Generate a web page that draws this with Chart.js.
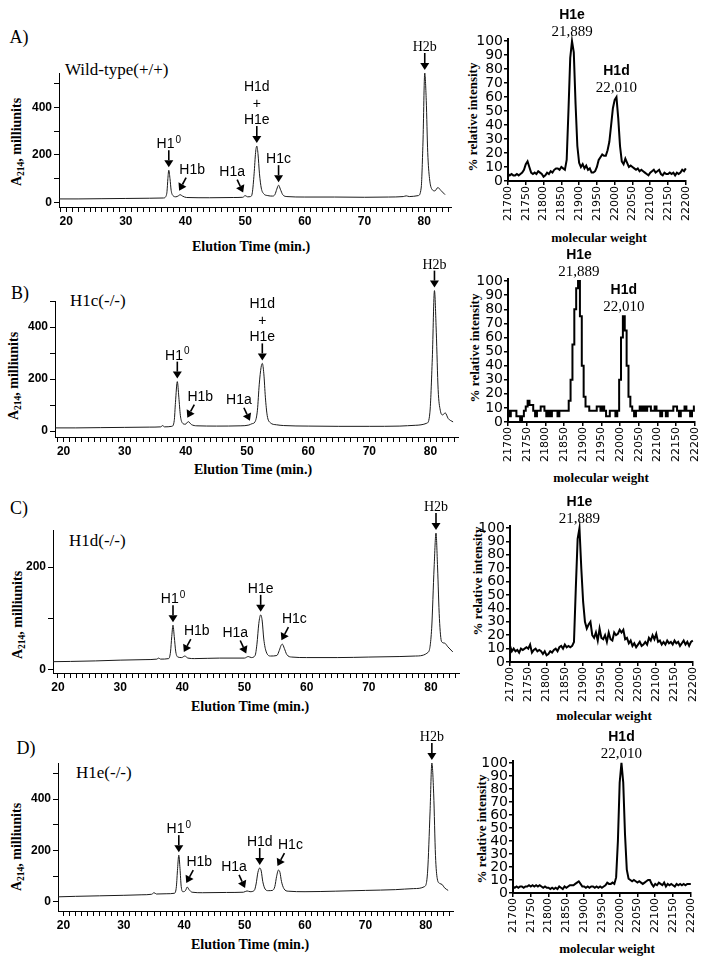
<!DOCTYPE html>
<html>
<head>
<meta charset="utf-8">
<script src="https://cdn.jsdelivr.net/npm/chart.js@4.4.1/dist/chart.umd.min.js"></script>
<style>
body{margin:0;background:#fff;width:714px;height:965px;position:relative;overflow:hidden}
canvas{position:absolute}
.t{position:absolute;white-space:nowrap;transform:translate(-50%,-50%);color:#000;line-height:1}
.l{position:absolute;white-space:nowrap;transform:translateY(-50%);color:#000;line-height:1}
.r{transform:translate(-50%,-50%) rotate(-90deg)}
.serif{font-family:"Liberation Serif","Times New Roman",serif}
.b{font-weight:bold}
sub{font-size:68%;vertical-align:-0.3em;line-height:0}
</style>
</head>
<body>
<div class="t serif" style="left:19px;top:37px;font-size:18px">A)</div>
<div class="t serif" style="left:20px;top:293px;font-size:18px">B)</div>
<div class="t serif" style="left:19px;top:508px;font-size:18px">C)</div>
<div class="t serif" style="left:26px;top:748px;font-size:18px">D)</div>

<div class="l serif" style="left:65px;top:69px;font-size:17px">Wild-type(+/+)</div>
<div class="l serif" style="left:70px;top:300px;font-size:17px">H1c(-/-)</div>
<div class="l serif" style="left:69px;top:540px;font-size:17px">H1d(-/-)</div>
<div class="l serif" style="left:76px;top:772px;font-size:17px">H1e(-/-)</div>

<div class="t r serif b" style="left:17px;top:142px;font-size:14px">A<sub>214</sub>, milliunits</div>
<div class="t r serif b" style="left:14px;top:376px;font-size:14px">A<sub>214</sub>, milliunits</div>
<div class="t r serif b" style="left:18px;top:615px;font-size:14px">A<sub>214</sub>, milliunits</div>
<div class="t r serif b" style="left:17px;top:847px;font-size:14px">A<sub>214</sub>, milliunits</div>

<div class="t serif b" style="left:251px;top:247px;font-size:14px">Elution Time (min.)</div>
<div class="t serif b" style="left:253px;top:470px;font-size:14px">Elution Time (min.)</div>
<div class="t serif b" style="left:250px;top:707px;font-size:14px">Elution Time (min.)</div>
<div class="t serif b" style="left:250px;top:945px;font-size:14px">Elution Time (min.)</div>

<div class="t r serif b" style="left:472px;top:117px;font-size:13px">% relative intensity</div>
<div class="t r serif b" style="left:474px;top:348px;font-size:13px">% relative intensity</div>
<div class="t r serif b" style="left:477px;top:581px;font-size:13px">% relative intensity</div>
<div class="t r serif b" style="left:481px;top:829px;font-size:13px">% relative intensity</div>

<div class="t serif b" style="left:599px;top:237px;font-size:13px">molecular weight</div>
<div class="t serif b" style="left:601px;top:477px;font-size:13px">molecular weight</div>
<div class="t serif b" style="left:604px;top:715px;font-size:13px">molecular weight</div>
<div class="t serif b" style="left:607px;top:948px;font-size:13px">molecular weight</div>

<script>
// chromatograms: [elution time (min), A214 (milliunits)]
const chromA = [
    [18.8,14],[22,14],[26,15],[30,16],[34,17],[36.3,18],[36.7,24],[36.9,45],[37.05,100],[37.2,135],
    [37.4,100],[37.6,50],[37.9,28],[38.4,23],[38.8,27],[39.1,32],[39.5,26],[40.2,20],[44,19],[48,20],
    [49.6,21],[50.0,28],[50.4,23],[50.9,24],[51.2,40],[51.5,120],[51.75,210],[51.95,237],[52.15,205],[52.4,120],
    [52.7,60],[53.1,36],[53.8,28],[54.6,26],[55.0,33],[55.3,55],[55.6,72],[55.9,55],[56.3,32],[57.0,24],
    [60,22],[65,22],[70,21],[74,22],[76.5,24],[77,27],[77.5,24],[79,28],[79.5,60],[79.8,250],
    [80.1,545],[80.35,430],[80.6,210],[80.9,100],[81.3,55],[81.8,48],[82.3,62],[82.8,50],[83.5,32]
];
const chromB = [
    [18.6,12],[22,12],[26,13],[30,14],[34,15],[35.9,16],[36.2,21],[36.5,16],[37.7,18],[38.1,40],
    [38.3,110],[38.6,190],[38.85,130],[39.1,60],[39.4,32],[39.9,26],[40.4,36],[40.9,25],[41.8,20],[45,19],
    [49,20],[50.3,23],[50.8,28],[51.3,35],[51.7,80],[52.0,180],[52.3,245],[52.5,260],[52.75,220],[53.0,130],
    [53.3,60],[53.8,32],[54.8,24],[56,21],[60,19],[65,18],[70,18],[75,19],[77.5,22],[79.4,30],
    [79.9,70],[80.3,280],[80.65,540],[80.95,380],[81.25,160],[81.6,80],[82.0,62],[82.4,70],[82.9,48],[83.7,35]
];
const chromC = [
    [19.2,16],[22,16.5],[26,17.5],[30,19],[34,20],[35.9,21],[36.2,23],[36.5,21],[37.8,22],[38.1,35],
    [38.3,65],[38.5,87],[38.7,65],[38.95,35],[39.3,25],[39.9,24],[40.4,27],[40.9,23],[42,22],[46,23],
    [50.0,23],[50.6,26],[51.1,24],[51.7,28],[52.0,50],[52.3,90],[52.6,107],[52.85,95],[53.1,60],[53.5,35],
    [54.2,27],[55.2,28],[55.6,38],[55.9,48],[56.1,50],[56.4,42],[56.8,30],[57.6,25],[60,24],[65,24],
    [70,25],[75,26],[77.5,27],[79.6,35],[80.1,80],[80.5,200],[80.8,266],[81.05,200],[81.35,100],[81.7,55],
    [82.2,52],[82.7,45],[83.5,35]
];
const chromD = [
    [19.1,20],[22,22],[26,24],[30,26],[33,28],[34.6,30],[35.0,36],[35.4,31],[37,32],[38.4,34],
    [38.7,60],[38.9,130],[39.1,182],[39.3,130],[39.5,60],[39.8,40],[40.2,44],[40.5,58],[40.8,48],[41.3,38],
    [43,36],[47,37],[49.8,38],[50.4,43],[50.9,40],[51.6,45],[51.9,70],[52.2,115],[52.5,132],[52.75,120],
    [53.0,80],[53.4,50],[53.9,44],[54.6,45],[55.0,60],[55.3,100],[55.6,124],[55.85,115],[56.1,80],[56.5,52],
    [57.2,42],[60,40],[65,42],[70,45],[75,48],[78,52],[79.8,60],[80.3,120],[80.7,350],[81.0,540],
    [81.3,420],[81.6,180],[81.9,90],[82.3,72],[82.7,68],[83.1,55],[83.7,45]
];

// mass spectra: % relative intensity, every 5 Da from 21700 to 22200
const massStart = 21700;
const massStep = 5;
const specA = [
    5,4,5,4,4,5,4,5,6,8,
    12,14,10,6,5,6,5,7,6,5,
    3,4,6,5,7,6,8,9,9,8,
    10,9,8,15,50,88,100,92,55,25,
    13,10,12,9,11,8,9,6,6,7,
    10,15,17,19,18,18,22,28,40,52,
    58,60,45,25,14,12,16,13,10,11,
    10,9,8,9,7,8,7,6,5,4,
    6,7,8,6,7,8,5,4,6,5,
    5,6,5,6,4,6,5,6,8,7,
    9
];
const specB = [
    8,4,8,8,8,4,4,0,4,8,
    11,15,12,12,8,4,8,8,11,11,
    8,4,8,4,8,8,8,4,8,8,
    8,8,8,15,30,55,80,95,100,75,
    40,18,11,11,8,8,8,8,11,11,
    8,11,8,4,4,8,8,8,4,8,
    30,60,75,65,40,18,11,8,4,8,
    8,11,8,11,8,11,11,8,8,11,
    8,8,4,8,8,4,8,8,8,11,
    11,8,4,8,8,11,8,8,4,8,
    11
];
const specC = [
    12,8,10,8,9,7,10,9,10,11,
    10,13,7,9,10,8,9,8,6,8,
    5,6,8,7,9,10,8,11,12,10,
    13,11,12,11,12,15,55,92,100,70,
    45,30,25,28,30,20,18,22,16,25,
    18,17,20,15,22,17,16,22,20,21,
    24,22,24,17,18,14,16,12,14,11,
    13,15,12,13,15,13,18,16,20,17,
    21,15,16,13,15,13,16,14,15,13,
    16,14,15,12,14,16,13,15,12,15,
    16
];
const specD = [
    5,4,5,4,5,5,4,5,5,6,
    5,6,5,6,5,6,5,4,5,4,
    4,3,4,3,4,3,5,4,3,5,
    4,5,6,6,6,7,8,9,7,5,
    5,4,5,4,5,5,4,5,4,5,
    4,5,6,8,7,7,8,7,12,40,
    85,100,85,45,18,11,10,9,10,9,
    8,9,8,7,8,9,10,10,7,5,
    7,6,8,7,6,8,5,7,6,7,
    6,5,7,6,7,6,7,6,7,7,
    7
];

// peak annotations (H1^0 = superscript 0, | = new line)
const peaksA = [
    {text: 'H1^0', x: 37.2, y: 135, dir: 'down'},
    {text: 'H1b', x: 39.1, y: 32, dir: 'dl'},
    {text: 'H1a', x: 50.0, y: 28, dir: 'dr'},
    {text: 'H1d|+|H1e', x: 51.95, y: 237, dir: 'down'},
    {text: 'H1c', x: 55.6, y: 72, dir: 'down'},
    {text: 'H2b', x: 80.1, y: 545, dir: 'down', serif: true}
];
const peaksB = [
    {text: 'H1^0', x: 38.6, y: 190, dir: 'down'},
    {text: 'H1b', x: 40.4, y: 36, dir: 'dl'},
    {text: 'H1a', x: 50.8, y: 28, dir: 'dr'},
    {text: 'H1d|+|H1e', x: 52.5, y: 260, dir: 'down'},
    {text: 'H2b', x: 80.65, y: 540, dir: 'down', serif: true}
];
const peaksC = [
    {text: 'H1^0', x: 38.5, y: 87, dir: 'down'},
    {text: 'H1b', x: 40.4, y: 27, dir: 'dl'},
    {text: 'H1a', x: 50.6, y: 26, dir: 'dr'},
    {text: 'H1e', x: 52.6, y: 107, dir: 'down'},
    {text: 'H1c', x: 56.1, y: 50, dir: 'dl'},
    {text: 'H2b', x: 80.8, y: 266, dir: 'down', serif: true}
];
const peaksD = [
    {text: 'H1^0', x: 39.1, y: 182, dir: 'down'},
    {text: 'H1b', x: 40.5, y: 58, dir: 'dl'},
    {text: 'H1a', x: 50.4, y: 43, dir: 'dr'},
    {text: 'H1d', x: 52.5, y: 132, dir: 'down'},
    {text: 'H1c', x: 55.6, y: 124, dir: 'dl'},
    {text: 'H2b', x: 81.0, y: 540, dir: 'down', serif: true}
];
const massPeaksA = [{name: 'H1e', num: '21,889', x: 21880, y: 100}, {name: 'H1d', num: '22,010', x: 22005, y: 60}];
const massPeaksB = [{name: 'H1e', num: '21,889', x: 21890, y: 100}, {name: 'H1d', num: '22,010', x: 22010, y: 75}];
const massPeaksC = [{name: 'H1e', num: '21,889', x: 21890, y: 100}];
const massPeaksD = [{name: 'H1d', num: '22,010', x: 22005, y: 100}];

const sans = '"Liberation Sans", Arial, sans-serif';
const serif = '"Liberation Serif", "Times New Roman", serif';
const dejavu = '"DejaVu Sans", sans-serif';

function makeCanvas(rect, wy, hx, padT, padR) {
    const c = document.createElement('canvas');
    const w = rect.r - rect.l + wy + padR;
    const h = rect.b - rect.t + padT + hx;
    c.width = w;
    c.height = h;
    c.style.left = (rect.l - wy) + 'px';
    c.style.top = (rect.t - padT) + 'px';
    c.style.width = w + 'px';
    c.style.height = h + 'px';
    document.body.appendChild(c);
    return c;
}

function stepTicks(step) {
    return function (scale) {
        const ticks = [];
        for (let v = Math.ceil(scale.min / step - 1e-9) * step; v <= scale.max + 1e-9; v += step) {
            ticks.push({value: +v.toFixed(6)});
        }
        scale.ticks = ticks;
    };
}

function drawArrow(ctx, x1, y1, x2, y2) {
    const a = Math.atan2(y2 - y1, x2 - x1);
    const hl = 7, hw = 4.5;
    const bx = x2 - hl * Math.cos(a), by = y2 - hl * Math.sin(a);
    ctx.lineWidth = 1.6;
    ctx.beginPath();
    ctx.moveTo(x1, y1);
    ctx.lineTo(bx, by);
    ctx.stroke();
    ctx.beginPath();
    ctx.moveTo(x2, y2);
    ctx.lineTo(bx + hw * Math.sin(a), by - hw * Math.cos(a));
    ctx.lineTo(bx - hw * Math.sin(a), by + hw * Math.cos(a));
    ctx.closePath();
    ctx.fill();
}

function drawLabel(ctx, p, cx, cy) {
    const lines = p.text.split('|');
    const font = p.serif ? `14px ${serif}` : `14px ${sans}`;
    lines.forEach((line, i) => {
        const y = cy - (lines.length - 1 - i) * 16.5;
        const parts = line.split('^');
        ctx.font = font;
        const w1 = ctx.measureText(parts[0]).width;
        let w2 = 0;
        if (parts[1]) {
            ctx.font = `10px ${sans}`;
            w2 = ctx.measureText(parts[1]).width + 1;
        }
        const x0 = cx - (w1 + w2) / 2;
        ctx.textAlign = 'left';
        ctx.textBaseline = 'alphabetic';
        ctx.font = font;
        ctx.fillText(parts[0], x0, y + 5);
        if (parts[1]) {
            ctx.font = `10px ${sans}`;
            ctx.fillText(parts[1], x0 + w1 + 1, y - 0.5);
        }
    });
}

function chromLabels(peaks) {
    return {
        id: 'chromLabels',
        afterDatasetsDraw(chart) {
            const ctx = chart.ctx, xs = chart.scales.x, ys = chart.scales.y;
            ctx.save();
            ctx.fillStyle = '#000';
            ctx.strokeStyle = '#000';
            peaks.forEach(p => {
                const px = xs.getPixelForValue(p.x), py = ys.getPixelForValue(p.y);
                let hx, hy, tx, ty, lx, ly;
                if (p.dir === 'down') {
                    hx = px; hy = py - 3; tx = px; ty = hy - 17; lx = px; ly = hy - 24;
                } else if (p.dir === 'dl') {
                    hx = px - 1; hy = py - 4; tx = hx + 7; ty = hy - 13; lx = hx + 13; ly = hy - 22;
                } else {
                    hx = px - 2; hy = py - 3; tx = hx - 6; ty = hy - 13; lx = hx - 11; ly = hy - 22;
                }
                drawArrow(ctx, tx, ty, hx, hy);
                drawLabel(ctx, p, lx, ly);
            });
            ctx.restore();
        }
    };
}

function massLabels(peaks) {
    return {
        id: 'massLabels',
        afterDatasetsDraw(chart) {
            const ctx = chart.ctx, xs = chart.scales.x, ys = chart.scales.y;
            ctx.save();
            ctx.fillStyle = '#000';
            ctx.textAlign = 'center';
            ctx.textBaseline = 'middle';
            peaks.forEach(p => {
                const px = xs.getPixelForValue(p.x), py = ys.getPixelForValue(p.y);
                ctx.font = `bold 14px ${sans}`;
                ctx.fillText(p.name, px, py - 26);
                ctx.font = `15px ${serif}`;
                ctx.fillText(p.num, px, py - 9);
            });
            ctx.restore();
        }
    };
}

function chromChart(rect, xr, yr, pts, peaks) {
    const wy = 45, hx = 24, padT = 48, padR = 8;
    const c = makeCanvas(rect, wy, hx, padT, padR);
    return new Chart(c, {
        type: 'line',
        data: {
            datasets: [{
                data: pts.map(p => ({x: p[0], y: p[1]})),
                borderColor: '#1a1a1a',
                borderWidth: 1,
                pointRadius: 0,
                cubicInterpolationMode: 'monotone',
                clip: false
            }]
        },
        options: {
            responsive: false,
            animation: false,
            layout: {padding: {top: padT, right: padR, left: 0, bottom: 0}, autoPadding: false},
            plugins: {legend: {display: false}, tooltip: {enabled: false}},
            scales: {
                x: {
                    type: 'linear', min: xr[0], max: xr[1],
                    afterFit: s => { s.height = hx; },
                    afterBuildTicks: stepTicks(1),
                    border: {color: '#000', width: 1},
                    grid: {drawOnChartArea: false, tickLength: 5, color: '#000'},
                    ticks: {
                        autoSkip: false, maxRotation: 0, minRotation: 0, padding: 2, color: '#000',
                        font: {family: sans, size: 12, weight: 'bold'},
                        callback: v => v % 10 === 0 ? String(v) : ''
                    }
                },
                y: {
                    min: yr[0], max: yr[1],
                    afterFit: s => { s.width = wy; },
                    afterBuildTicks: stepTicks(100),
                    border: {color: '#000', width: 1},
                    grid: {drawOnChartArea: false, tickLength: 5, color: '#000'},
                    ticks: {
                        autoSkip: false, padding: 2, color: '#000',
                        font: {family: sans, size: 12, weight: 'bold'},
                        callback: v => v % 200 === 0 ? String(v) : ''
                    }
                }
            }
        },
        plugins: [chromLabels(peaks)]
    });
}

function massChart(rect, vals, peaks, stepped) {
    const wy = 42, hx = 45, padT = 45, padR = 12;
    const c = makeCanvas(rect, wy, hx, padT, padR);
    return new Chart(c, {
        type: 'line',
        data: {
            datasets: [{
                data: vals.map((v, i) => ({x: massStart + i * massStep, y: v})),
                borderColor: '#000',
                borderWidth: 2,
                pointRadius: 0,
                tension: 0,
                stepped: stepped ? 'middle' : false,
                clip: false
            }]
        },
        options: {
            responsive: false,
            animation: false,
            layout: {padding: {top: padT, right: padR, left: 0, bottom: 0}, autoPadding: false},
            plugins: {legend: {display: false}, tooltip: {enabled: false}},
            scales: {
                x: {
                    type: 'linear', min: 21700, max: 22200,
                    afterFit: s => { s.height = hx; },
                    afterBuildTicks: stepTicks(50),
                    border: {color: '#000', width: 2},
                    grid: {drawOnChartArea: false, tickLength: 4, color: '#000', lineWidth: 1.5},
                    ticks: {
                        autoSkip: false, minRotation: 90, maxRotation: 90, padding: 1, color: '#000',
                        font: {family: dejavu, size: 11},
                        callback: v => String(v)
                    }
                },
                y: {
                    min: 0, max: 101.5,
                    afterFit: s => { s.width = wy; },
                    afterBuildTicks: stepTicks(10),
                    border: {color: '#000', width: 2},
                    grid: {drawOnChartArea: false, tickLength: 4, color: '#000', lineWidth: 1.5},
                    ticks: {
                        autoSkip: false, padding: 1, color: '#000',
                        font: {family: dejavu, size: 14},
                        callback: v => String(v)
                    }
                }
            }
        },
        plugins: [massLabels(peaks)]
    });
}

chromChart({l: 59, r: 451, t: 73, b: 207}, [18.8, 84.5], [-20, 545], chromA, peaksA);
chromChart({l: 55, r: 458, t: 301, b: 437}, [18.6, 84.5], [-23, 500], chromB, peaksB);
chromChart({l: 53, r: 459, t: 530, b: 673}, [19.2, 84.5], [-6, 272], chromC, peaksC);
chromChart({l: 58, r: 453, t: 763, b: 911}, [19.1, 84.5], [-35, 540], chromD, peaksD);

massChart({l: 508, r: 688, t: 39, b: 181}, specA, massPeaksA, false);
massChart({l: 508, r: 697, t: 279, b: 422}, specB, massPeaksB, true);
massChart({l: 510, r: 695, t: 526, b: 662}, specC, massPeaksC, false);
massChart({l: 513, r: 693, t: 761, b: 893}, specD, massPeaksD, false);
</script>
</body>
</html>
